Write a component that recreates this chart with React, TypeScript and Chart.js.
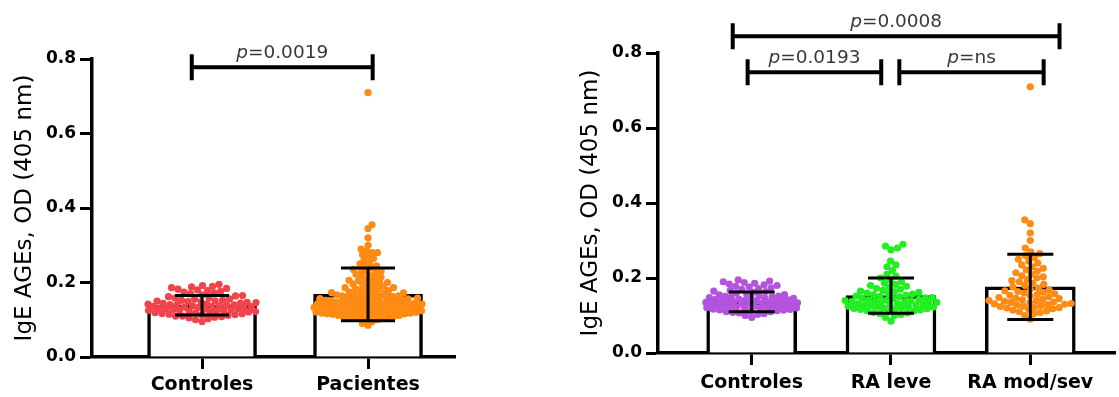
import React, { useEffect, useRef } from 'react';
import { Chart, registerables } from 'chart.js';
Chart.register(...registerables);

// ---------------- data ----------------
const controles = [
  0.095, 0.100, 0.103, 0.105, 0.107, 0.108, 0.110, 0.110, 0.112, 0.113, 0.114, 0.115, 0.116, 0.117, 0.118,
  0.119, 0.120, 0.121, 0.122, 0.123, 0.124, 0.125, 0.125, 0.126, 0.127, 0.128, 0.129, 0.130, 0.130, 0.131,
  0.132, 0.133, 0.134, 0.135, 0.135, 0.136, 0.137, 0.138, 0.139, 0.140, 0.140, 0.141, 0.142, 0.143, 0.144,
  0.145, 0.146, 0.147, 0.148, 0.149, 0.150, 0.151, 0.152, 0.153, 0.155, 0.156, 0.158, 0.160, 0.162, 0.164,
  0.165, 0.167, 0.170, 0.172, 0.174, 0.176, 0.178, 0.180, 0.182, 0.184, 0.186, 0.188, 0.190, 0.192, 0.195,
];
const raLeve = [
  0.085, 0.095, 0.100, 0.103, 0.105, 0.107, 0.108, 0.110, 0.112, 0.113, 0.115, 0.116, 0.117, 0.118, 0.119,
  0.120, 0.121, 0.122, 0.123, 0.124, 0.125, 0.126, 0.127, 0.128, 0.129, 0.130, 0.131, 0.132, 0.133, 0.134,
  0.135, 0.136, 0.137, 0.138, 0.139, 0.140, 0.141, 0.142, 0.143, 0.145, 0.146, 0.147, 0.148, 0.150, 0.151,
  0.152, 0.154, 0.155, 0.157, 0.158, 0.160, 0.162, 0.164, 0.165, 0.167, 0.170, 0.172, 0.175, 0.178, 0.180,
  0.183, 0.186, 0.190, 0.195, 0.200, 0.205, 0.210, 0.220, 0.230, 0.235, 0.245, 0.275, 0.280, 0.285, 0.290,
];
const raModSev = [
  0.090, 0.100, 0.105, 0.108, 0.110, 0.112, 0.114, 0.116, 0.118, 0.120, 0.121, 0.122, 0.124, 0.125, 0.126,
  0.128, 0.129, 0.130, 0.131, 0.132, 0.134, 0.135, 0.136, 0.138, 0.139, 0.140, 0.142, 0.143, 0.145, 0.146,
  0.148, 0.150, 0.152, 0.154, 0.156, 0.158, 0.160, 0.162, 0.164, 0.166, 0.168, 0.170, 0.173, 0.176, 0.180,
  0.183, 0.186, 0.190, 0.193, 0.196, 0.200, 0.203, 0.206, 0.210, 0.214, 0.218, 0.222, 0.226, 0.230, 0.235,
  0.240, 0.245, 0.250, 0.255, 0.260, 0.265, 0.270, 0.280, 0.300, 0.320, 0.345, 0.355, 0.710,
];
const pacientes = [...raLeve, ...raModSev];

const leftCategories = ['Controles', 'Pacientes'];
const leftMeans = [0.139, 0.168];
const leftSD = [0.026, 0.071];
const leftBrackets = [{ from: 0.938, to: 2.028, y: 0.778, label: '0.0019' }];

const rightCategories = ['Controles', 'RA leve', 'RA mod/sev'];
const rightMeans = [0.1365, 0.153, 0.1765];
const rightSD = [0.0265, 0.047, 0.087];
const rightBrackets = [
  { from: 0.864, to: 3.21, y: 0.845, label: '0.0008' },
  { from: 0.971, to: 1.93, y: 0.749, label: '0.0193' },
  { from: 2.06, to: 3.096, y: 0.749, label: 'ns' },
];

const yTicks = [0, 0.2, 0.4, 0.6, 0.8];
const yTitle = 'IgE AGEs, OD (405 nm)';

const RED = '#f1434c';
const ORANGE = '#ff8a14';
const PURPLE = '#b454de';
const GREEN = '#22ee22';

const FONT = "'DejaVu Sans', sans-serif";

// ---------------- layout helpers ----------------
function swarm(py: number[], d: number, maxHalf: number): number[] {
  const idx = py.map((_, i) => i).sort((a, b) => py[b] - py[a]);
  const placed: { x: number; y: number }[] = [];
  const out = new Array(py.length).fill(0);
  const cands: number[] = [0];
  for (let k = 1; k <= maxHalf * 2; k++) {
    cands.push(k / 2, -k / 2);
  }
  let flip = 1;
  for (const i of idx) {
    const y = py[i];
    const near = placed.filter((p) => Math.abs(p.y - y) < d);
    let chosen = 0;
    let bestScore = -1;
    let found = false;
    for (const c0 of cands) {
      const c = c0 * flip;
      let md = Infinity;
      for (const p of near) {
        const dd = Math.hypot(p.x - c, p.y - y);
        if (dd < md) md = dd;
      }
      if (md >= d) {
        chosen = c;
        found = true;
        break;
      }
      if (md > bestScore) {
        bestScore = md;
        chosen = c;
      }
    }
    if (!found && bestScore < 0) chosen = 0;
    flip = -flip;
    placed.push({ x: chosen, y });
    out[i] = chosen;
  }
  return out;
}

const overlayPlugin = {
  id: 'overlay',
  afterDatasetsDraw(chart: any) {
    const o = chart.options.plugins.overlay;
    if (!o) return;
    const { ctx } = chart;
    const xs = chart.scales.x;
    const ys = chart.scales.y;
    ctx.save();
    ctx.strokeStyle = '#000';
    ctx.lineWidth = 3;
    ctx.lineCap = 'butt';
    o.means.forEach((m: number, i: number) => {
      const cx = xs.getPixelForValue(i + 1);
      const yt = ys.getPixelForValue(m + o.sds[i]);
      const yb = ys.getPixelForValue(m - o.sds[i]);
      ctx.beginPath();
      ctx.moveTo(cx, yt);
      ctx.lineTo(cx, yb);
      ctx.moveTo(cx - o.capHalf, yt);
      ctx.lineTo(cx + o.capHalf, yt);
      ctx.moveTo(cx - o.capHalf, yb);
      ctx.lineTo(cx + o.capHalf, yb);
      ctx.stroke();
    });
    ctx.lineWidth = 4;
    o.brackets.forEach((b: any) => {
      const x1 = xs.getPixelForValue(b.from);
      const x2 = xs.getPixelForValue(b.to);
      const y = ys.getPixelForValue(b.y);
      ctx.beginPath();
      ctx.moveTo(x1, y);
      ctx.lineTo(x2, y);
      ctx.moveTo(x1, y - 13);
      ctx.lineTo(x1, y + 13);
      ctx.moveTo(x2, y - 13);
      ctx.lineTo(x2, y + 13);
      ctx.stroke();
      const fs = 18.5;
      ctx.fillStyle = '#383838';
      ctx.textBaseline = 'alphabetic';
      ctx.textAlign = 'left';
      ctx.font = `italic ${fs}px ${FONT}`;
      const wp = ctx.measureText('p').width;
      ctx.font = `${fs}px ${FONT}`;
      const rest = '=' + b.label;
      const wr = ctx.measureText(rest).width;
      const sx = (x1 + x2) / 2 - (wp + wr) / 2;
      const ty = y - 9;
      ctx.font = `italic ${fs}px ${FONT}`;
      ctx.fillText('p', sx, ty);
      ctx.font = `${fs}px ${FONT}`;
      ctx.fillText(rest, sx + wp, ty);
    });
    ctx.restore();
  },
};

type PanelCfg = {
  left: number;
  width: number;
  axisWidth: number;
  padTop: number;
  padRight: number;
  xHeight: number;
  xMin: number;
  xMax: number;
  barThickness: number;
  capHalf: number;
  maxHalf: number;
  dotGap: number[];
  groups: number[][];
  colors: string[];
  means: number[];
  sds: number[];
  brackets: any[];
  categories: string[];
  titlePad: number;
  xLabelPad: number;
};

function Panel({ cfg }: { cfg: PanelCfg }) {
  const ref = useRef<HTMLCanvasElement>(null);
  useEffect(() => {
    const cats = cfg.categories;
    const chart = new Chart(ref.current as HTMLCanvasElement, {
      type: 'bar',
      data: {
        datasets: [
          {
            type: 'bar',
            data: cfg.means.map((m, i) => ({ x: i + 1, y: m })),
            backgroundColor: '#ffffff',
            borderColor: '#000000',
            borderWidth: 3.5,
            barThickness: cfg.barThickness,
            order: 3,
          } as any,
          ...cfg.groups.map((g, gi) => ({
            type: 'scatter',
            data: [] as any[],
            backgroundColor: cfg.colors[gi],
            pointRadius: 3.6,
            pointBorderWidth: 0,
            pointHoverRadius: 3.6,
            showLine: false,
            order: 1,
          })),
        ],
      },
      options: {
        animation: false,
        responsive: false,
        devicePixelRatio: 1,
        events: [],
        layout: { padding: { top: cfg.padTop, right: cfg.padRight, left: 0, bottom: 0 } },
        plugins: {
          legend: { display: false },
          tooltip: { enabled: false },
          overlay: {
            means: cfg.means,
            sds: cfg.sds,
            capHalf: cfg.capHalf,
            brackets: cfg.brackets,
          },
        } as any,
        scales: {
          x: {
            type: 'linear',
            offset: false,
            min: cfg.xMin,
            max: cfg.xMax,
            afterBuildTicks: (s: any) => {
              s.ticks = cats.map((_, i) => ({ value: i + 1 }));
            },
            afterFit: (s: any) => {
              s.height = cfg.xHeight;
            },
            ticks: {
              autoSkip: false,
              maxRotation: 0,
              padding: cfg.xLabelPad,
              color: '#000',
              font: { family: FONT, weight: 'bold', size: 19 },
              callback: (v: any) => cats[Math.round(Number(v)) - 1] ?? '',
            },
            grid: { offset: false, drawOnChartArea: false, drawTicks: true, tickLength: 12, tickWidth: 3, tickColor: '#000' },
            border: { display: true, width: 3.5, color: '#000' },
          },
          y: {
            min: 0,
            max: 0.8,
            afterBuildTicks: (s: any) => {
              s.ticks = yTicks.map((v) => ({ value: v }));
            },
            afterFit: (s: any) => {
              s.width = cfg.axisWidth;
            },
            ticks: {
              padding: 4,
              color: '#000',
              font: { family: FONT, weight: 'bold', size: 17 },
              callback: (v: any) => Number(v).toFixed(1),
            },
            grid: { drawOnChartArea: false, drawTicks: true, tickLength: 12, tickWidth: 3, tickColor: '#000' },
            border: { display: true, width: 3.5, color: '#000' },
            title: {
              display: true,
              text: yTitle,
              color: '#000',
              font: { family: FONT, size: 23, weight: 'normal' },
              padding: { top: cfg.titlePad, bottom: 0 },
            },
          },
        },
      } as any,
      plugins: [overlayPlugin],
    });

    const xs: any = chart.scales.x;
    const ys: any = chart.scales.y;
    const pxPerX = xs.getPixelForValue(2) - xs.getPixelForValue(1);
    cfg.groups.forEach((g, gi) => {
      const py = g.map((v) => ys.getPixelForValue(v));
      const offs = swarm(py, cfg.dotGap[gi], cfg.maxHalf);
      (chart.data.datasets[gi + 1] as any).data = g.map((v, i) => ({ x: gi + 1 + offs[i] / pxPerX, y: v }));
    });
    chart.update('none');
    return () => chart.destroy();
  }, []);
  return (
    <canvas
      ref={ref}
      width={cfg.width}
      height={397}
      style={{ position: 'absolute', left: cfg.left, top: 0, width: cfg.width, height: 397, display: 'block' }}
    />
  );
}

const leftCfg: PanelCfg = {
  left: 0,
  width: 560,
  axisWidth: 92,
  padTop: 59,
  padRight: 105,
  xHeight: 40,
  xMin: 0.337,
  xMax: 2.524,
  barThickness: 109,
  capHalf: 27,
  maxHalf: 54,
  dotGap: [6.6, 5.4],
  groups: [controles, pacientes],
  colors: [RED, ORANGE],
  means: leftMeans,
  sds: leftSD,
  brackets: leftBrackets,
  categories: leftCategories,
  titlePad: 11,
  xLabelPad: 5,
};

const rightCfg: PanelCfg = {
  left: 560,
  width: 559,
  axisWidth: 98,
  padTop: 53,
  padRight: 2,
  xHeight: 44,
  xMin: 0.3276,
  xMax: 3.611,
  barThickness: 90,
  capHalf: 23,
  maxHalf: 46,
  dotGap: [6.4, 6.4, 6.4],
  groups: [controles, raLeve, raModSev],
  colors: [PURPLE, GREEN, ORANGE],
  means: rightMeans,
  sds: rightSD,
  brackets: rightBrackets,
  categories: rightCategories,
  titlePad: 17,
  xLabelPad: 7,
};

export default function App() {
  return (
    <div style={{ position: 'fixed', left: 0, top: 0, width: 1119, height: 397, background: '#fff' }}>
      <Panel cfg={leftCfg} />
      <Panel cfg={rightCfg} />
    </div>
  );
}
